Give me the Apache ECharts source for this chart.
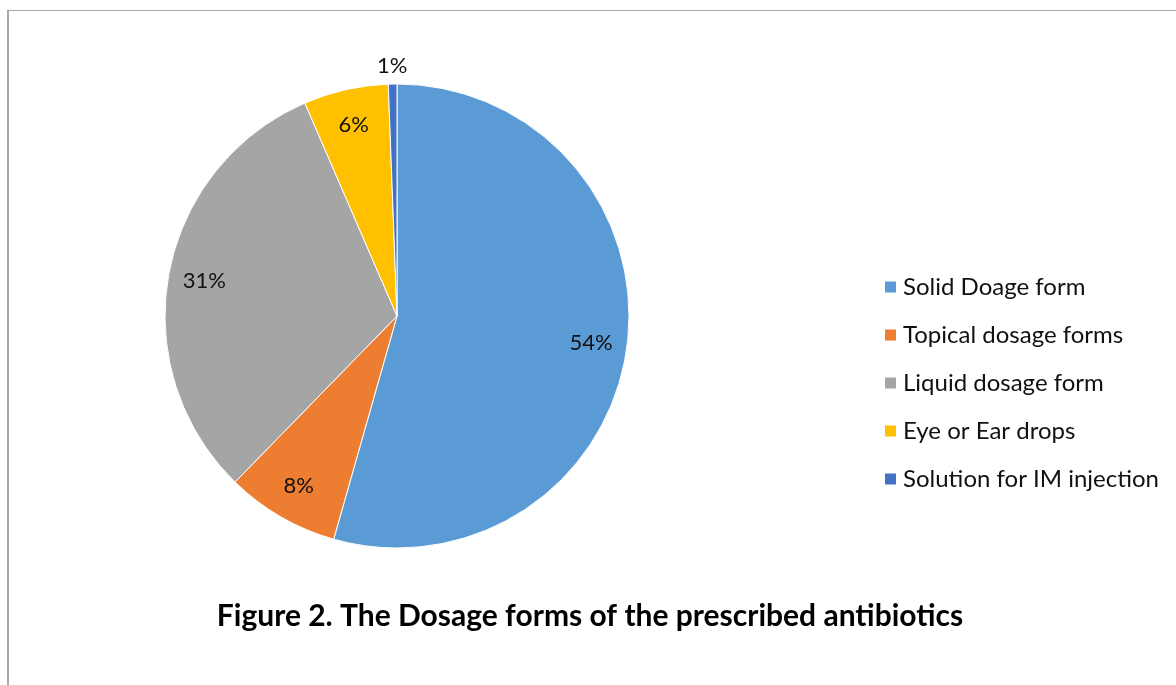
<!DOCTYPE html>
<html>
<head>
<meta charset="utf-8">
<script src="https://cdn.jsdelivr.net/npm/echarts@6/dist/echarts.min.js"></script>
<style>
  html, body { margin: 0; padding: 0; background: #fff; }
  #chart { width: 1176px; height: 685px; }
</style>
</head>
<body>
<div id="chart"></div>
<script>
const categories = [
  'Solid Doage form',
  'Topical dosage forms',
  'Liquid dosage form',
  'Eye or Ear drops',
  'Solution for IM injection'
];
const shares = [54.4, 7.9, 31.2, 5.9, 0.6];
const colors = ['#5B9BD5', '#ED7D31', '#A5A5A5', '#FFC000', '#4472C4'];

const FONT = 'Lato, "Open Sans", sans-serif';
const CX = 397, CY = 316, R = 232;

const chart = echarts.init(document.getElementById('chart'));

chart.setOption({
  backgroundColor: '#fff',
  animation: false,
  color: colors,
  title: {
    text: 'Figure 2. The Dosage forms of the prescribed antibiotics',
    left: 585,
    top: 596,
    textAlign: 'center',
    textStyle: { fontFamily: FONT, fontSize: 30, fontWeight: 'bold', color: '#000' }
  },
  legend: {
    orient: 'vertical',
    left: 880,
    top: 270,
    itemWidth: 11,
    itemHeight: 11,
    itemGap: 24,
    icon: 'rect',
    itemStyle: { borderWidth: 0 },
    textStyle: { fontFamily: FONT, fontSize: 24, color: '#111', padding: [0, 0, 0, 2] },
    data: categories
  },
  graphic: [
    { type: 'line', shape: { x1: 8, y1: 10, x2: 8, y2: 685 }, style: { stroke: '#a6a6a6', lineWidth: 2 } },
    { type: 'line', shape: { x1: 7, y1: 10.5, x2: 1176, y2: 10.5 }, style: { stroke: '#a6a6a6', lineWidth: 1 } }
  ],
  series: [
    {
      type: 'pie',
      center: [CX, CY],
      radius: [0, R],
      startAngle: 90,
      clockwise: true,
      percentPrecision: 0,
      itemStyle: { borderColor: '#fff', borderWidth: 1 },
      label: {
        show: true,
        position: 'inside',
        formatter: '{d}%',
        fontFamily: FONT,
        fontSize: 22,
        color: '#111'
      },
      labelLine: { show: false },
      labelLayout: function (p) {
        const r = p.labelRect;
        const lx = r.x + r.width / 2;
        const ly = r.y + r.height / 2;
        const dx = lx - CX, dy = ly - CY;
        const d = Math.sqrt(dx * dx + dy * dy) || 1;
        const target = p.dataIndex === shares.length - 1 ? R + 18 : R * 0.845;
        return {
          x: CX + dx / d * target,
          y: CY + dy / d * target,
          align: 'center',
          verticalAlign: 'middle'
        };
      },
      emphasis: { disabled: true },
      data: categories.map((name, i) => ({ name: name, value: shares[i] }))
    }
  ]
});
</script>
</body>
</html>
